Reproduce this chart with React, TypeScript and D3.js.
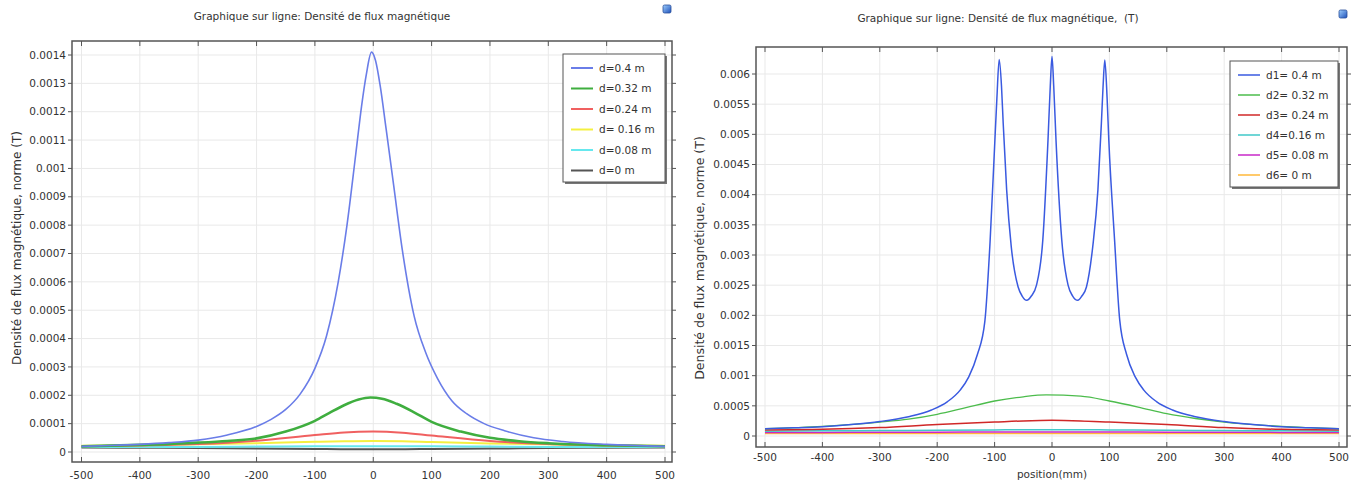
import React from "react";
import * as d3 from "d3";

// ---------- Tick labels ----------
const xTicks = [-500, -400, -300, -200, -100, 0, 100, 200, 300, 400, 500];
const leftYTicks = [0, 0.0001, 0.0002, 0.0003, 0.0004, 0.0005, 0.0006, 0.0007, 0.0008, 0.0009, 0.001, 0.0011, 0.0012, 0.0013, 0.0014];
const rightYTicks = [0, 0.0005, 0.001, 0.0015, 0.002, 0.0025, 0.003, 0.0035, 0.004, 0.0045, 0.005, 0.0055, 0.006];

// ---------- Left chart data ----------
const leftBlueX = [-500, -450, -400, -350, -300, -250, -200, -175, -150, -125, -100, -80, -60, -45, -30, -20, -12, -3, 4, 12, 22, 35, 50, 70, 90, 110, 135, 160, 190, 225, 275, 325, 400, 500];
const leftBlueY = [0.00002, 0.000023, 0.000027, 0.000033, 0.000042, 0.00006, 0.00009, 0.000115, 0.00015, 0.000205, 0.000295, 0.00041, 0.0006, 0.0008, 0.00105, 0.00122, 0.00133, 0.00141, 0.00138, 0.00129, 0.00114, 0.00094, 0.00071, 0.00048, 0.00035, 0.00026, 0.00018, 0.000135, 0.0001, 0.000075, 0.00005, 0.000037, 0.000027, 0.00002];
const leftGreenX = [-500, -400, -300, -250, -200, -150, -100, -75, -50, -25, -5, 15, 40, 70, 100, 150, 200, 250, 300, 400, 500];
const leftGreenY = [0.00002, 0.000025, 0.000033, 0.000039, 0.000048, 0.000072, 0.00011, 0.000138, 0.000165, 0.000185, 0.000192, 0.000188, 0.00017, 0.00014, 0.000106, 0.000072, 0.00005, 0.000038, 0.000031, 0.000024, 0.00002];
const leftCoarseX = [-500, -400, -300, -200, -100, -50, 0, 50, 100, 200, 300, 400, 500];
const leftRedY = [0.00002, 0.000023, 0.000028, 0.00004, 0.00006, 0.000069, 0.000072, 0.000068, 0.000058, 0.000039, 0.000028, 0.000023, 0.00002];
const leftYellowY = [0.000022, 0.000024, 0.000027, 0.000031, 0.000036, 0.000038, 0.000039, 0.000038, 0.000035, 0.00003, 0.000027, 0.000024, 0.000022];
const leftCyanY = [0.000018, 0.000018, 0.000018, 0.000019, 0.00002, 0.00002, 0.00002, 0.00002, 0.00002, 0.000019, 0.000018, 0.000018, 0.000018];
const leftGrayY = [0.000016, 0.000015, 0.000014, 0.000012, 0.000011, 0.00001, 0.00001, 0.00001, 0.000011, 0.000012, 0.000014, 0.000015, 0.000016];
const leftLabels = ["d=0.4 m", "d=0.32 m", "d=0.24 m", "d= 0.16 m", "d=0.08 m", "d=0 m"];
const leftColors = ["#6a7de8", "#3fae3f", "#f06060", "#f4f040", "#66e8ee", "#555555"];

// ---------- Right chart data ----------
const rightBlueX = [-500, -450, -400, -350, -300, -250, -210, -182, -160, -145, -130, -117, -108, -100, -96, -92, -88, -85, -79, -71, -59, -52, -44, -36, -27, -16, -7, -3, 0, 3, 7, 17, 28, 36, 45, 52, 60, 71, 80, 86, 89, 92, 96, 99, 109, 118, 130, 145, 160, 182, 210, 250, 300, 350, 400, 450, 500];
const rightBlueY = [0.00012, 0.000135, 0.000155, 0.00019, 0.00024, 0.00032, 0.00043, 0.00057, 0.00076, 0.00098, 0.00135, 0.0019, 0.0032, 0.0048, 0.0056, 0.00624, 0.0058, 0.00518, 0.00408, 0.00314, 0.00247, 0.00232, 0.00225, 0.00232, 0.0025, 0.00325, 0.0049, 0.0058, 0.00629, 0.0058, 0.0049, 0.00325, 0.0025, 0.00232, 0.00225, 0.00232, 0.00247, 0.00314, 0.00408, 0.00518, 0.0058, 0.00623, 0.0056, 0.0049, 0.00325, 0.00192, 0.00135, 0.00098, 0.00076, 0.00057, 0.00043, 0.00032, 0.00024, 0.00019, 0.000155, 0.000135, 0.00012];
const rightGreenX = [-500, -400, -300, -250, -200, -150, -100, -50, -10, 50, 100, 150, 200, 250, 300, 400, 500];
const rightGreenY = [0.00012, 0.00016, 0.00023, 0.00028, 0.00036, 0.00047, 0.00058, 0.00065, 0.00068, 0.00066, 0.00058, 0.00048, 0.00037, 0.00029, 0.00023, 0.00016, 0.00012];
const rightCoarseX = [-500, -400, -300, -200, -100, -50, 0, 50, 100, 200, 300, 400, 500];
const rightRedY = [0.0001, 0.00011, 0.00014, 0.00019, 0.00023, 0.00025, 0.00026, 0.00025, 0.00023, 0.00019, 0.00014, 0.00011, 0.0001];
const rightCyanY = [0.00008, 0.000085, 0.00009, 0.000095, 0.0001, 0.000105, 0.000105, 0.000105, 0.0001, 0.000095, 0.00009, 0.000085, 0.00008];
const rightMagentaY = [0.00006, 0.00006, 0.000062, 0.000064, 0.000066, 0.000067, 0.000067, 0.000067, 0.000066, 0.000064, 0.000062, 0.00006, 0.00006];
const rightOrangeY = [0.00004, 0.00004, 0.00004, 0.000041, 0.000042, 0.000042, 0.000042, 0.000042, 0.000042, 0.000041, 0.00004, 0.00004, 0.00004];
const rightLabels = ["d1= 0.4 m", "d2= 0.32 m", "d3= 0.24 m", "d4=0.16 m", "d5= 0.08 m", "d6= 0 m"];
const rightColors = ["#3a5ae0", "#4cbc4c", "#d02828", "#40c8c8", "#c828c8", "#ffb83a"];

const FONT = "'DejaVu Sans', 'Liberation Sans', sans-serif";
const TXT = "#333";

type Series = { xs: number[]; ys: number[]; color: string; width: number };

function Panel(props: {
  frame: { l: number; r: number; t: number; b: number };
  xr: [number, number];
  yr: [number, number];
  yMax: number;
  yTicks: number[];
  series: Series[];
  title: string;
  titleX: number;
  titleY: number;
  yTitle: string;
  yTitleX: number;
  yTitleY: number;
  yTitleSize: number;
  xTitle?: string;
  xLabelY: number;
  legend: { x: number; y: number; w: number; h: number; step: number; labels: string[]; colors: string[]; widths: number[] };
  iconX: number;
  iconY: number;
}) {
  const { frame, series, legend } = props;
  const x = d3.scaleLinear().domain([-500, 500]).range(props.xr);
  const y = d3.scaleLinear().domain([0, props.yMax]).range(props.yr);
  const fmt = (v: number) => (v === 0 ? "0" : String(+v.toPrecision(4)));
  const clipId = "clip" + Math.round(frame.l);
  return (
    <g>
      <defs>
        <clipPath id={clipId}>
          <rect x={frame.l} y={frame.t} width={frame.r - frame.l} height={frame.b - frame.t} />
        </clipPath>
        <linearGradient id={"ic" + clipId} x1="0" y1="0" x2="1" y2="1">
          <stop offset="0" stopColor="#9fd0ff" />
          <stop offset="1" stopColor="#1d4fb8" />
        </linearGradient>
      </defs>
      {/* title */}
      <text x={props.titleX} y={props.titleY} textAnchor="middle" fontFamily={FONT} fontSize={10.5} fill={TXT} style={{ whiteSpace: "pre" }}>
        {props.title}
      </text>
      <rect x={props.iconX} y={props.iconY} width={8} height={8} rx={1.5} fill={"url(#ic" + clipId + ")"} stroke="#2a4f9a" strokeWidth={0.8} />
      {/* grid */}
      {xTicks.map((t) => (
        <line key={"gx" + t} x1={x(t)} x2={x(t)} y1={frame.t} y2={frame.b} stroke="#e9e9e9" strokeWidth={1} />
      ))}
      {props.yTicks.map((t) => (
        <line key={"gy" + t} x1={frame.l} x2={frame.r} y1={y(t)} y2={y(t)} stroke="#e9e9e9" strokeWidth={1} />
      ))}
      {/* series */}
      <g clipPath={`url(#${clipId})`}>
        {series.map((s, i) => {
          const pts = s.xs.map((xv, j) => [xv, s.ys[j]] as [number, number]);
          const line = d3
            .line<[number, number]>()
            .x((d) => x(d[0]))
            .y((d) => y(d[1]))
            .curve(d3.curveMonotoneX);
          return <path key={i} d={line(pts) || ""} fill="none" stroke={s.color} strokeWidth={s.width} strokeLinejoin="round" />;
        })}
      </g>
      {/* frame */}
      <rect x={frame.l} y={frame.t} width={frame.r - frame.l} height={frame.b - frame.t} fill="none" stroke="#555" strokeWidth={1.5} />
      {/* ticks */}
      {xTicks.map((t) => (
        <g key={"tx" + t}>
          <line x1={x(t)} x2={x(t)} y1={frame.t} y2={frame.t + 5} stroke="#555" strokeWidth={1} />
          <line x1={x(t)} x2={x(t)} y1={frame.b} y2={frame.b - 5} stroke="#555" strokeWidth={1} />
          <text x={x(t)} y={props.xLabelY} textAnchor="middle" fontFamily={FONT} fontSize={10.5} fill={TXT}>
            {t}
          </text>
        </g>
      ))}
      {props.yTicks.map((t) => (
        <g key={"ty" + t}>
          <line x1={frame.l - 4} x2={frame.l} y1={y(t)} y2={y(t)} stroke="#555" strokeWidth={1} />
          <line x1={frame.r} x2={frame.r + 4} y1={y(t)} y2={y(t)} stroke="#555" strokeWidth={1} />
          <text x={frame.l - 6} y={y(t)} dy="0.35em" textAnchor="end" fontFamily={FONT} fontSize={10.5} fill={TXT}>
            {fmt(t)}
          </text>
        </g>
      ))}
      {/* axis titles */}
      <text
        transform={`translate(${props.yTitleX},${props.yTitleY}) rotate(-90)`}
        textAnchor="middle"
        fontFamily={FONT}
        fontSize={props.yTitleSize}
        fill={TXT}
      >
        {props.yTitle}
      </text>
      {props.xTitle && (
        <text x={x(0)} y={478} textAnchor="middle" fontFamily={FONT} fontSize={10.5} fill={TXT}>
          {props.xTitle}
        </text>
      )}
      {/* legend */}
      <rect x={legend.x + 2} y={legend.y + 2} width={legend.w} height={legend.h} fill="#777" />
      <rect x={legend.x} y={legend.y} width={legend.w} height={legend.h} fill="#fff" stroke="#555" strokeWidth={1} />
      {legend.labels.map((lab, i) => {
        const ly = legend.y + 14 + i * legend.step;
        return (
          <g key={lab}>
            <line x1={legend.x + 8} x2={legend.x + 30} y1={ly} y2={ly} stroke={legend.colors[i]} strokeWidth={legend.widths[i]} />
            <text x={legend.x + 36} y={ly} dy="0.35em" fontFamily={FONT} fontSize={10.5} fill={TXT}>
              {lab}
            </text>
          </g>
        );
      })}
    </g>
  );
}

export default function App() {
  const leftSeries: Series[] = [
    { xs: leftCoarseX, ys: leftGrayY, color: leftColors[5], width: 2 },
    { xs: leftCoarseX, ys: leftCyanY, color: leftColors[4], width: 2 },
    { xs: leftCoarseX, ys: leftYellowY, color: leftColors[3], width: 2 },
    { xs: leftCoarseX, ys: leftRedY, color: leftColors[2], width: 2 },
    { xs: leftGreenX, ys: leftGreenY, color: leftColors[1], width: 2.6 },
    { xs: leftBlueX, ys: leftBlueY, color: leftColors[0], width: 1.6 },
  ];
  const rightSeries: Series[] = [
    { xs: rightCoarseX, ys: rightOrangeY, color: rightColors[5], width: 1.5 },
    { xs: rightCoarseX, ys: rightMagentaY, color: rightColors[4], width: 1.5 },
    { xs: rightCoarseX, ys: rightCyanY, color: rightColors[3], width: 1.5 },
    { xs: rightCoarseX, ys: rightRedY, color: rightColors[2], width: 1.5 },
    { xs: rightGreenX, ys: rightGreenY, color: rightColors[1], width: 1.3 },
    { xs: rightBlueX, ys: rightBlueY, color: rightColors[0], width: 1.5 },
  ];
  return (
    <svg width={1361} height={485} style={{ position: "absolute", left: 0, top: 0, background: "#fff" }}>
      <rect x={0} y={0} width={1361} height={485} fill="#fff" />
      <Panel
        frame={{ l: 72, r: 672, t: 41, b: 462 }}
        xr={[81.5, 665]}
        yr={[452, 55]}
        yMax={0.0014}
        yTicks={leftYTicks}
        series={leftSeries}
        title="Graphique sur ligne: Densité de flux magnétique"
        titleX={322}
        titleY={20}
        yTitle="Densité de flux magnétique, norme (T)"
        yTitleX={21}
        yTitleY={248}
        yTitleSize={12}
        xLabelY={479}
        legend={{ x: 563, y: 54, w: 102, h: 128, step: 20.5, labels: leftLabels, colors: leftColors, widths: [2, 2, 2, 2, 2, 2] }}
        iconX={663}
        iconY={5}
      />
      <Panel
        frame={{ l: 756, r: 1347, t: 47, b: 447 }}
        xr={[765, 1339]}
        yr={[436, 74]}
        yMax={0.006}
        yTicks={rightYTicks}
        series={rightSeries}
        title="Graphique sur ligne: Densité de flux magnétique,  (T)"
        titleX={998}
        titleY={22}
        yTitle="Densité de flux magnétique, norme (T)"
        yTitleX={704}
        yTitleY={258}
        yTitleSize={12.5}
        xTitle="position(mm)"
        xLabelY={461}
        legend={{ x: 1230, y: 61, w: 108, h: 126, step: 20, labels: rightLabels, colors: rightColors, widths: [1.5, 1.5, 1.5, 1.5, 1.5, 1.5] }}
        iconX={1339}
        iconY={10}
      />
    </svg>
  );
}
